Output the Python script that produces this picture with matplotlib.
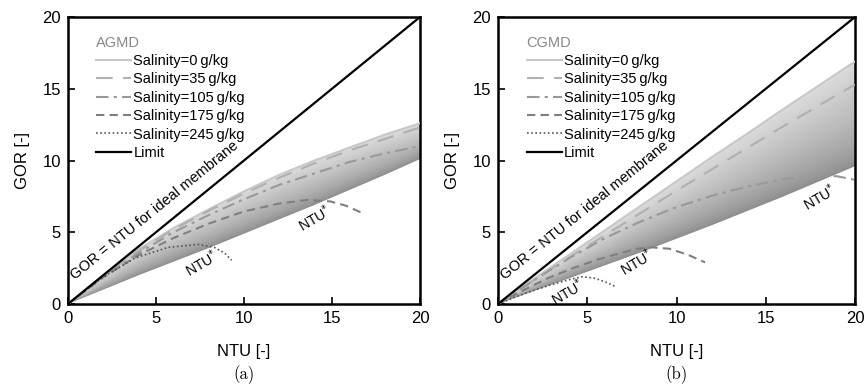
import matplotlib
matplotlib.use("Agg")
import matplotlib.pyplot as plt
import numpy as np

plt.rcParams['font.family'] = ['Liberation Sans', 'DejaVu Sans']

# Data: AGMD (a)
ntu_a = [0, 2, 4, 6, 8, 10, 12, 14, 16, 18, 20]
a_sal0 = [0, 2.0, 3.8, 5.3, 6.6, 7.85, 9.0, 10.0, 10.9, 11.8, 12.6]
a_sal35 = [0, 1.95, 3.7, 5.2, 6.5, 7.7, 8.8, 9.8, 10.7, 11.5, 12.3]
a_sal105 = [0, 1.9, 3.55, 5.0, 6.2, 7.3, 8.3, 9.1, 9.9, 10.5, 11.0]
a_bottom = [0, 1.0, 2.0, 2.95, 3.9, 4.9, 5.9, 6.9, 7.95, 9.0, 10.1]
ntu_a175 = [0, 2, 4, 6, 8, 10, 12, 13.6, 14.9, 15.8, 16.7]
a_sal175 = [0, 1.85, 3.4, 4.6, 5.6, 6.45, 7.0, 7.25, 7.15, 6.85, 6.35]
ntu_a245 = [0, 1.9, 3.8, 5.7, 7.4, 8.3, 8.9, 9.3]
a_sal245 = [0, 1.8, 3.2, 3.95, 4.15, 3.95, 3.55, 3.05]

# Data: CGMD (b)
ntu_b = [0, 2, 4, 6, 8, 10, 12, 14, 16, 18, 20]
b_sal0 = [0, 1.75, 3.45, 5.15, 6.85, 8.55, 10.25, 11.9, 13.6, 15.25, 16.9]
b_sal35 = [0, 1.65, 3.25, 4.8, 6.35, 7.9, 9.4, 10.9, 12.4, 13.85, 15.3]
b_bottom = [0, 0.9, 1.8, 2.7, 3.6, 4.55, 5.5, 6.5, 7.5, 8.55, 9.6]
ntu_b105 = [0, 2, 4, 6, 8, 10, 12, 14, 16, 17.7, 19, 20]
b_sal105 = [0, 1.65, 3.2, 4.6, 5.75, 6.75, 7.55, 8.2, 8.7, 8.95, 8.9, 8.65]
ntu_b175 = [0, 1.4, 2.8, 4.2, 5.6, 7.0, 7.8, 8.6, 9.6, 10.6, 11.6]
b_sal175 = [0, 0.95, 1.8, 2.5, 3.1, 3.6, 3.85, 3.95, 3.85, 3.45, 2.9]
ntu_b245 = [0, 1, 2, 3, 4, 4.7, 5.4, 6.0, 6.6]
b_sal245 = [0, 0.5, 0.95, 1.35, 1.7, 1.9, 1.8, 1.55, 1.2]

limit_x = [0, 20]
limit_y = [0, 20]

sal_labels = ['Salinity=0\u2009g/kg', 'Salinity=35\u2009g/kg', 'Salinity=105\u2009g/kg',
              'Salinity=175\u2009g/kg', 'Salinity=245\u2009g/kg', 'Limit']

ntu_star_a = [(7.6, 2.85), (14.0, 5.95)]
ntu_star_b = [(3.9, 0.85), (7.75, 2.95), (18.0, 7.45)]

fig = plt.figure(figsize=(8.67, 3.89), dpi=100)
ax1 = fig.add_axes([0.0784, 0.2185, 0.406, 0.7378])
ax2 = fig.add_axes([0.5744, 0.2185, 0.4118, 0.7378])


def shade(ax, x, top, bottom):
    # gradient band between bottom and top curve
    poly = ax.fill_between(x, bottom, top, facecolor='none', edgecolor='none')
    gx = np.linspace(0, 20, 400)
    gy = np.linspace(0, 20, 400)
    X, Y = np.meshgrid(gx, gy)
    t = np.interp(gx, x, top)
    b = np.interp(gx, x, bottom)
    frac = (Y - b) / np.maximum(t - b, 1e-6)
    frac = np.clip(frac, 0, 1) ** 0.7
    img = ax.imshow(frac, extent=[0, 20, 0, 20], origin='lower', cmap='gray',
                    vmin=-1.75, vmax=1.45, aspect='auto', zorder=1)
    img.set_clip_path(poly.get_paths()[0], transform=ax.transData)


def style(ax, title, sub):
    ax.set_xlim(0, 20)
    ax.set_ylim(0, 20)
    ax.set_xticks([0, 5, 10, 15, 20])
    ax.set_yticks([0, 5, 10, 15, 20])
    ax.tick_params(direction='in', length=5, width=1.2, labelsize=12, pad=5)
    for s in ax.spines.values():
        s.set_linewidth(1.8)
    ax.set_xlabel('NTU [-]', fontsize=12, labelpad=13)
    ax.set_ylabel('GOR [-]', fontsize=12, labelpad=9)
    leg = ax.legend(loc='upper left', bbox_to_anchor=(0.08, 0.935), frameon=False,
                    fontsize=10.5, title=title, handlelength=2.4, handletextpad=0.15,
                    labelspacing=0.3, borderaxespad=0, borderpad=0, alignment='left')
    leg.get_title().set_color('#888888')
    leg.get_title().set_fontsize(10.5)
    ax.text(0.5, -0.247, sub, transform=ax.transAxes, ha='center', va='center',
            fontsize=12, family='cmr10')
    ax.text(0.5, 1.5, 'GOR = NTU for ideal membrane', rotation=39,
            rotation_mode='anchor', fontsize=10.5, ha='left', va='bottom')


def curves(ax, c):
    ax.plot(c[0][0], c[0][1], color='#c8c8c8', lw=1.5, zorder=3, label=sal_labels[0])
    ax.plot(c[1][0], c[1][1], color='#b0b0b0', lw=1.5, dashes=(8, 5), zorder=3, label=sal_labels[1])
    ax.plot(c[2][0], c[2][1], color='#999999', lw=1.5, dashes=(6, 2.5, 1.5, 2.5), zorder=3, label=sal_labels[2])
    ax.plot(c[3][0], c[3][1], color='#7f7f7f', lw=1.5, dashes=(4, 2.5), zorder=3, label=sal_labels[3])
    ax.plot(c[4][0], c[4][1], color='#555555', lw=1.2, dashes=(1, 1.5), zorder=3, label=sal_labels[4])
    ax.plot(limit_x, limit_y, color='black', lw=1.6, zorder=4, label=sal_labels[5])


shade(ax1, ntu_a, a_sal0, a_bottom)
curves(ax1, [(ntu_a, a_sal0), (ntu_a, a_sal35), (ntu_a, a_sal105),
             (ntu_a175, a_sal175), (ntu_a245, a_sal245)])
style(ax1, 'AGMD', '(a)')
for x, y in ntu_star_a:
    ax1.text(x, y, 'NTU$^{*}$', rotation=30, fontsize=10, ha='center', va='center')

shade(ax2, ntu_b, b_sal0, b_bottom)
curves(ax2, [(ntu_b, b_sal0), (ntu_b, b_sal35), (ntu_b105, b_sal105),
             (ntu_b175, b_sal175), (ntu_b245, b_sal245)])
style(ax2, 'CGMD', '(b)')
for x, y in ntu_star_b:
    ax2.text(x, y, 'NTU$^{*}$', rotation=30, fontsize=10, ha='center', va='center')

fig.savefig('out.png', dpi=100)
